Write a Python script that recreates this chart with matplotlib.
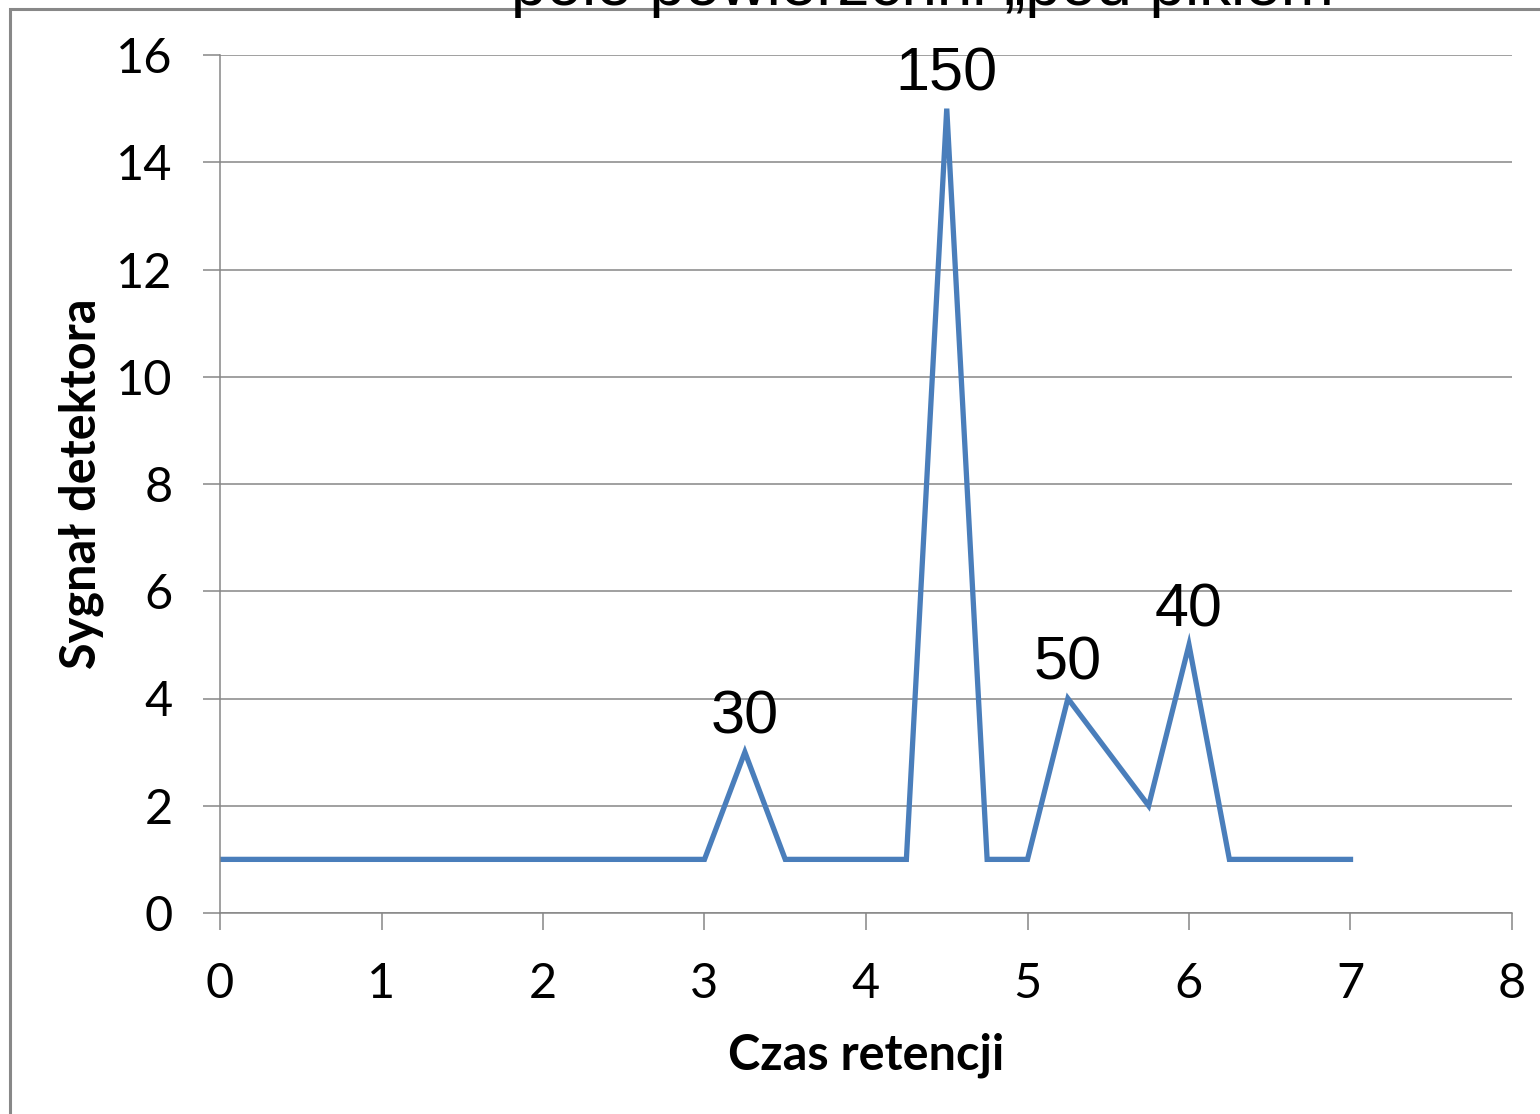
import matplotlib.pyplot as plt
from matplotlib.patches import Rectangle

# retention time (x) and detector signal (y)
czas = [0, 0.25, 0.5, 0.75, 1, 1.25, 1.5, 1.75, 2, 2.25, 2.5, 2.75, 3,
        3.25, 3.5, 3.75, 4, 4.25, 4.5, 4.75, 5, 5.25, 5.5, 5.75, 6, 6.25,
        6.5, 6.75, 7]
sygnal = [1, 1, 1, 1, 1, 1, 1, 1, 1, 1, 1, 1, 1,
          3, 1, 1, 1, 1, 15, 1, 1, 4, 3, 2, 5, 1,
          1, 1, 1]

# peak areas written above each peak
pik_x = [3.25, 4.5, 5.25, 6]
pik_y = [3, 15, 4, 5]
pik_pole = ["30", "150", "50", "40"]

fig = plt.figure(figsize=(15.4, 11.14), dpi=100)
ax = fig.add_axes([220 / 1540, 1 - 913 / 1114, 1292 / 1540, 858 / 1114])

ax.plot(czas, sygnal, color='#4A7EBB', linewidth=3.8, solid_joinstyle='miter')

for x, y, t in zip(pik_x, pik_y, pik_pole):
    ax.annotate(t, (x, y), xytext=(0, 4), textcoords='offset points',
                ha='center', va='bottom', fontsize=44, family='Liberation Sans')

ax.set_xlim(0, 8)
ax.set_ylim(0, 16)
ax.set_xticks(range(0, 9))
ax.set_yticks(range(0, 17, 2))
ax.yaxis.grid(True, color='#868686', linewidth=1.1)
ax.set_axisbelow(True)

for s in ['top', 'right']:
    ax.spines[s].set_visible(False)
for s in ['left', 'bottom']:
    ax.spines[s].set_color('#868686')
    ax.spines[s].set_linewidth(1.1)

ax.tick_params(axis='both', direction='out', length=12, width=1.1,
               color='#868686', labelsize=35)
ax.tick_params(axis='y', pad=22)
ax.tick_params(axis='x', pad=23)
for lab in ax.get_xticklabels() + ax.get_yticklabels():
    lab.set_family('Lato')

ax.set_xlabel('Czas retencji', fontsize=35, fontweight='bold', family='Lato', labelpad=19)
ax.set_ylabel('Sygnał detektora', fontsize=35, fontweight='bold', family='Lato', labelpad=9)

# chart frame, partly off the canvas
fig.patches.append(Rectangle((10 / 1540, -0.1), 1.2, 1 - 9 / 1114 + 0.1,
                             transform=fig.transFigure, fill=False,
                             edgecolor='#888888', linewidth=2.2, zorder=0))

fig.text(933 / 1540, 1 - 5 / 1114, 'pole powierzchni „pod pikiem”',
         ha='center', va='baseline', fontsize=46, family='Liberation Sans')

fig.savefig('out.png', dpi=100)
